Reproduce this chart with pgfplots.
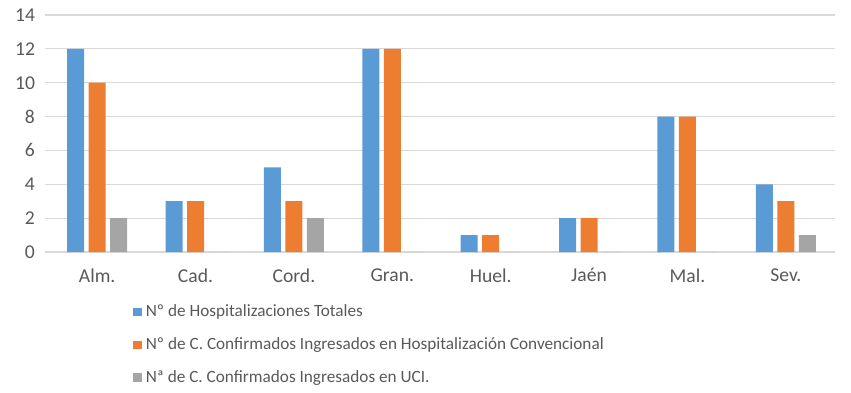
\documentclass[border=0pt]{standalone}
\usepackage{pgfplots}
\pgfplotsset{compat=1.18}
\usepackage{fontspec}
\setmainfont{Carlito}
\definecolor{cblue}{HTML}{5B9BD5}
\definecolor{corange}{HTML}{ED7D31}
\definecolor{cgray}{HTML}{A5A5A5}
\definecolor{ctext}{HTML}{595959}
\definecolor{cgrid}{HTML}{D9D9D9}
\begin{document}
\begin{tikzpicture}
\useasboundingbox (-22.5pt,-70pt) rectangle (403pt,126pt);
\begin{axis}[
  at={(0,0)}, anchor=south west,
  scale only axis, width=395pt, height=118.5pt,
  ybar=2.25pt, bar width=8.5pt,
  xmin=-0.53, xmax=7.5, ymin=0, ymax=14,
  ytick={0,2,...,14},
  xtick=data,
  xticklabels={Alm.,Cad.,Cord.,Gran.,Huel.,Jaén,Mal.,Sev.},
  axis line style={draw=none},
  tick style={draw=none},
  ymajorgrids, grid style={cgrid, line width=0.6pt},
  tick label style={font=\fontsize{9.8}{11}\selectfont, text=ctext},
  /pgf/number format/assume math mode=true,
  yticklabel style={xshift=-1.5pt},
  xticklabel style={yshift=-0.5pt},
  legend style={at={(0.111,-0.203)}, anchor=north west, draw=none, fill=none,
    font=\fontsize{8.6}{10}\selectfont, text=ctext, row sep=5.0pt, inner sep=0pt},
  legend cell align=left,
  legend image code/.code={\fill[#1] (0pt,-2.2pt) rectangle (4.4pt,2.2pt);},
]
\addplot[fill=cblue, draw=none] coordinates {(0,12) (1,3) (2,5) (3,12) (4,1) (5,2) (6,8) (7,4)};
\addplot[fill=corange, draw=none] coordinates {(0,10) (1,3) (2,3) (3,12) (4,1) (5,2) (6,8) (7,3)};
\addplot[fill=cgray, draw=none] coordinates {(0,2) (1,0) (2,2) (3,0) (4,0) (5,0) (6,0) (7,1)};
\legend{Nº de Hospitalizaciones Totales, Nº de C. Confirmados Ingresados en Hospitalización Convencional, Nª de C. Confirmados Ingresados en UCI.}
\end{axis}
\end{tikzpicture}
\end{document}
